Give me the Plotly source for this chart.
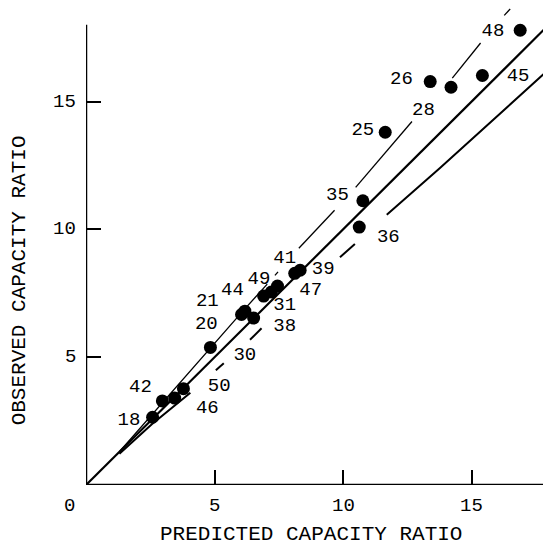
import plotly.graph_objects as go

# Data points (predicted, observed)
pred = [2.59, 2.97, 3.45, 3.79, 4.84, 6.05, 6.18, 6.52, 6.91, 7.21, 7.45, 8.12, 8.33,
        10.63, 10.77, 11.64, 13.39, 14.20, 15.42, 16.89]
obs = [2.65, 3.29, 3.40, 3.77, 5.38, 6.67, 6.80, 6.53, 7.39, 7.55, 7.78, 8.28, 8.40,
       10.09, 11.12, 13.80, 15.78, 15.56, 16.02, 17.79]

# Point labels (test numbers) and their positions
lab_text = ["48", "26", "45", "28", "25", "35", "36", "41", "39", "49", "44", "47",
            "21", "31", "20", "38", "30", "50", "42", "46", "18"]
lab_x = [15.83, 12.27, 16.81, 13.13, 10.77, 9.78, 11.76, 7.73, 9.23, 6.73, 5.70, 8.74,
         4.72, 7.73, 4.68, 7.73, 6.18, 5.18, 2.12, 4.72, 1.67]
lab_y = [17.74, 15.88, 15.99, 14.66, 13.88, 11.34, 9.69, 8.89, 8.44, 8.03, 7.62, 7.62,
         7.17, 7.05, 6.30, 6.20, 5.08, 3.88, 3.84, 2.99, 2.55]

# Reference lines (segments broken by labels)
center_x = [0, 18.05]
center_y = [0, 18.05]
upper_x = [1.3, 2.6, 4.84, 6.1, 7.05, None, 7.35, 7.47, None, 8.28, 9.67, None,
           10.49, 12.68, None, 14.25, 15.35, None, 16.27, 16.5]
upper_y = [1.3, 2.8, 5.38, 6.8, 7.86, None, 8.2, 8.34, None, 9.26, 10.75, None,
           11.64, 14.22, None, 15.92, 17.29, None, 18.37, 18.62]
lower_x = [1.3, 2.56, 4.06, None, 5.05, 5.36, None, 6.38, 6.83, None, 9.88, 10.46, None,
           11.70, 13.77, 18.08]
lower_y = [1.22, 2.38, 3.61, None, 4.49, 4.76, None, 5.68, 6.13, None, 8.91, 9.43, None,
           10.57, 12.40, 16.33]

# Axis ticks
x_ticks = [0, 5, 10, 15]
x_tick_text = ["0", "5", "10", "15"]
y_ticks = [5, 10, 15]
y_tick_text = ["5", "10", "15"]

FONT = "Liberation Mono, Courier New, monospace"

fig = go.Figure()
fig.add_trace(go.Scatter(x=center_x, y=center_y, mode="lines",
                         line=dict(color="black", width=2.2), hoverinfo="skip"))
fig.add_trace(go.Scatter(x=upper_x, y=upper_y, mode="lines",
                         line=dict(color="black", width=1.3), hoverinfo="skip",
                         connectgaps=False))
fig.add_trace(go.Scatter(x=lower_x, y=lower_y, mode="lines",
                         line=dict(color="black", width=2), hoverinfo="skip",
                         connectgaps=False))
fig.add_trace(go.Scatter(x=pred, y=obs, mode="markers",
                         marker=dict(color="black", size=13, line=dict(width=0))))
fig.add_trace(go.Scatter(x=lab_x, y=lab_y, mode="text", text=lab_text,
                         textfont=dict(family=FONT, size=19, color="black"),
                         hoverinfo="skip"))

# axis lines
fig.add_shape(type="line", x0=0, x1=18.05, y0=0, y1=0, xref="x", yref="y",
              line=dict(color="black", width=2.5))
fig.add_shape(type="line", x0=0, x1=0, y0=0, y1=18.0, xref="x", yref="y",
              line=dict(color="black", width=2.5))

annotations = []
for v, t in zip(x_ticks, x_tick_text):
    annotations.append(dict(x=v, y=0, xref="x", yref="y", text=t, showarrow=False,
                            yshift=-21, xshift=(-17 if v == 0 else 0),
                            yanchor="middle", xanchor="center",
                            font=dict(family=FONT, size=19, color="black")))
for v, t in zip(y_ticks, y_tick_text):
    annotations.append(dict(x=0, y=v, xref="x", yref="y", text=t, showarrow=False,
                            xshift=-8, xanchor="right", yanchor="middle",
                            font=dict(family=FONT, size=19, color="black")))
annotations.append(dict(x=0.485, y=0, xref="paper", yref="paper",
                        text="PREDICTED CAPACITY RATIO", showarrow=False,
                        yshift=-49, yanchor="middle", xanchor="center",
                        font=dict(family=FONT, size=21, color="black")))
annotations.append(dict(x=0, y=0.429, xref="paper", yref="paper",
                        text="OBSERVED CAPACITY RATIO", showarrow=False,
                        xshift=-67, xanchor="center", yanchor="middle", textangle=-90,
                        font=dict(family=FONT, size=21, color="black")))

fig.update_layout(
    width=543, height=537,
    margin=dict(l=78, r=1, t=0, b=60),
    paper_bgcolor="white", plot_bgcolor="white",
    showlegend=False,
    annotations=annotations,
    xaxis=dict(range=[0, 18.05], showgrid=False, zeroline=False, showline=False,
               tickvals=[5, 10, 15], ticks="inside", ticklen=15, tickwidth=2,
               tickcolor="black", showticklabels=False),
    yaxis=dict(range=[0, 18.66], showgrid=False, zeroline=False, showline=False,
               tickvals=[5, 10, 15], ticks="inside", ticklen=15, tickwidth=2,
               tickcolor="black", showticklabels=False),
)

fig.write_html("out.html")
